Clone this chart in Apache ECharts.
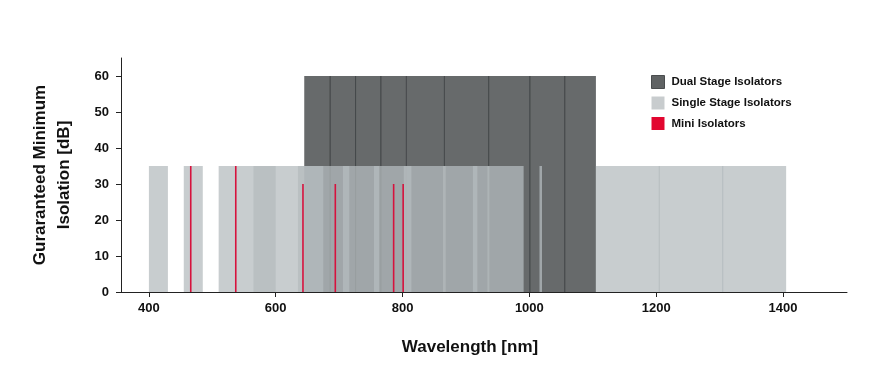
<!DOCTYPE html>
<html>
<head>
<meta charset="utf-8">
<script src="https://cdn.jsdelivr.net/npm/echarts@6/dist/echarts.min.js"></script>
<style>
  html, body { margin: 0; padding: 0; background: #fff; }
  #chart { width: 870px; height: 381px; }
</style>
</head>
<body>
<div id="chart"></div>
<script>
// tick labels
var wavelengthTicks = [400, 600, 800, 1000, 1200, 1400];
var isolationTicks = [0, 10, 20, 30, 40, 50, 60];

// [from nm, to nm, isolation dB]
var dualStage = [
  [645, 686, 60], [686, 726, 60], [726, 766, 60], [766, 810, 60],
  [806, 870, 60], [866, 936, 60], [936, 1001, 60], [1001, 1056, 60],
  [1056, 1105, 60]
];
var singleStage = [
  [400, 430, 35], [455, 485, 35], [510, 600, 35], [565, 675, 35],
  [635, 716, 35], [706, 763, 35], [755, 814, 35], [802, 868, 35],
  [864, 918, 35], [911, 937, 35], [934, 991, 35], [1016, 1020, 35],
  [1105, 1206, 35], [1204, 1306, 35], [1304, 1405, 35]
];
// [nm, isolation dB]
var miniIsolators = [
  [466, 35], [537, 35], [643, 30], [694, 30], [786, 30], [801, 30]
];

var seriesNames = ['Dual Stage Isolators', 'Single Stage Isolators', 'Mini Isolators'];

var darkFill = '#676a6b';
var darkLine = '#45484a';
var lightFill = 'rgba(181,187,190,0.74)';
var redLine = '#d6123d';
var font = 'Liberation Sans, Arial';

var dualMin = Math.min.apply(null, dualStage.map(function (d) { return d[0]; }));
var dualMax = Math.max.apply(null, dualStage.map(function (d) { return d[1]; }));

function bandRect(api, fill) {
  var p0 = api.coord([api.value(0), api.value(2)]);
  var p1 = api.coord([api.value(1), 0]);
  return {
    type: 'rect',
    shape: { x: p0[0], y: p0[1], width: p1[0] - p0[0], height: p1[1] - p0[1] },
    style: { fill: fill }
  };
}

var myChart = echarts.init(document.getElementById('chart'));

var option = {
  animation: false,
  grid: { left: 121, right: 23, top: 58, bottom: 89, containLabel: false },
  legend: {
    orient: 'vertical',
    left: 646,
    top: 70,
    itemWidth: 13,
    itemHeight: 13,
    itemGap: 7.5,
    icon: 'rect',
    textStyle: { fontFamily: font, fontWeight: 'bold', fontSize: 11.5, color: '#111', padding: [0, 0, 0, 2] },
    data: [
      { name: seriesNames[0], itemStyle: { color: '#606364', borderColor: '#4a4d4e', borderWidth: 1 } },
      { name: seriesNames[1], itemStyle: { color: '#c8ccce' } },
      { name: seriesNames[2], itemStyle: { color: '#e2062f' } }
    ]
  },
  xAxis: {
    type: 'value',
    min: 356,
    max: 1501,
    name: 'Wavelength [nm]',
    nameLocation: 'middle',
    nameGap: 47,
    nameTextStyle: { fontFamily: font, fontWeight: 'bold', fontSize: 17, color: '#111', padding: [0, 28, 0, 0] },
    axisLine: { show: true, lineStyle: { color: '#222', width: 1 } },
    axisTick: { show: true, length: 5, lineStyle: { color: '#222' }, customValues: wavelengthTicks },
    axisLabel: {
      customValues: wavelengthTicks, margin: 10,
      formatter: function (v) { return String(v); },
      fontFamily: font, fontWeight: 'bold', fontSize: 13, color: '#111'
    },
    splitLine: { show: false }
  },
  yAxis: {
    type: 'value',
    min: 0,
    max: 65,
    name: 'Guraranteed Minimum\nIsolation [dB]',
    nameLocation: 'middle',
    nameRotate: 90,
    nameGap: 45,
    nameTextStyle: { fontFamily: font, fontWeight: 'bold', fontSize: 17, color: '#111', lineHeight: 24 },
    axisLine: { show: true, lineStyle: { color: '#222', width: 1 } },
    axisTick: { show: true, length: 5, lineStyle: { color: '#222' }, customValues: isolationTicks },
    axisLabel: { customValues: isolationTicks, margin: 12, fontFamily: font, fontWeight: 'bold', fontSize: 13, color: '#111' },
    splitLine: { show: false }
  },
  series: [
    {
      name: seriesNames[0],
      type: 'custom',
      z: 1,
      itemStyle: { color: darkFill },
      encode: { x: [0, 1], y: 2 },
      data: dualStage,
      renderItem: function (params, api) {
        var rect = bandRect(api, darkFill);
        var x0 = rect.shape.x, x1 = rect.shape.x + rect.shape.width;
        var yTop = rect.shape.y, yBot = rect.shape.y + rect.shape.height;
        var children = [rect];
        if (api.value(0) !== dualMin) {
          children.push({ type: 'line', shape: { x1: x0, y1: yTop, x2: x0, y2: yBot }, style: { stroke: darkLine, lineWidth: 1 } });
        }
        if (api.value(1) !== dualMax) {
          children.push({ type: 'line', shape: { x1: x1, y1: yTop, x2: x1, y2: yBot }, style: { stroke: darkLine, lineWidth: 1 } });
        }
        return { type: 'group', children: children };
      }
    },
    {
      name: seriesNames[1],
      type: 'custom',
      z: 2,
      itemStyle: { color: lightFill },
      encode: { x: [0, 1], y: 2 },
      data: singleStage,
      renderItem: function (params, api) {
        return bandRect(api, lightFill);
      }
    },
    {
      name: seriesNames[2],
      type: 'custom',
      z: 3,
      itemStyle: { color: redLine },
      encode: { x: 0, y: 1 },
      data: miniIsolators,
      renderItem: function (params, api) {
        var top = api.coord([api.value(0), api.value(1)]);
        var bot = api.coord([api.value(0), 0]);
        return {
          type: 'line',
          shape: { x1: top[0], y1: top[1], x2: bot[0], y2: bot[1] },
          style: { stroke: redLine, lineWidth: 1.6 }
        };
      }
    }
  ]
};

option && myChart.setOption(option);
</script>
</body>
</html>
